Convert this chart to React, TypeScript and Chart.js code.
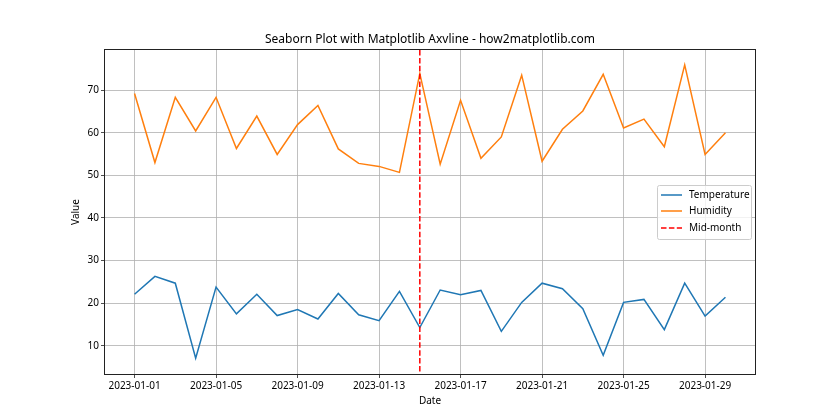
import React, { useEffect, useRef } from "react";
import { Chart, registerables } from "chart.js";

Chart.register(...registerables);

const dates = [
  "2023-01-01", "2023-01-02", "2023-01-03", "2023-01-04", "2023-01-05",
  "2023-01-06", "2023-01-07", "2023-01-08", "2023-01-09", "2023-01-10",
  "2023-01-11", "2023-01-12", "2023-01-13", "2023-01-14", "2023-01-15",
  "2023-01-16", "2023-01-17", "2023-01-18", "2023-01-19", "2023-01-20",
  "2023-01-21", "2023-01-22", "2023-01-23", "2023-01-24", "2023-01-25",
  "2023-01-26", "2023-01-27", "2023-01-28", "2023-01-29", "2023-01-30",
];

const temperature = [
  22.1, 26.3, 24.7, 7.1, 23.8, 17.5, 22.1, 17.1, 18.5, 16.3,
  22.3, 17.3, 15.9, 22.8, 14.3, 23.1, 22.0, 23.0, 13.4, 20.2,
  24.7, 23.4, 18.7, 7.8, 20.2, 20.9, 13.8, 24.7, 17.0, 21.4,
];

const humidity = [
  69.2, 53.0, 68.3, 60.4, 68.3, 56.3, 63.9, 54.9, 61.9, 66.4,
  56.2, 52.8, 52.1, 50.7, 73.9, 52.6, 67.6, 54.0, 59.0, 73.5,
  53.3, 60.8, 65.1, 73.7, 61.1, 63.2, 56.7, 75.9, 54.9, 60.0,
];

const xTickIndices = [0, 4, 8, 12, 16, 20, 24, 28];
const yTicks = [10, 20, 30, 40, 50, 60, 70];
const midMonthIndex = 14;

const title = "Seaborn Plot with Matplotlib Axvline - how2matplotlib.com";
const FONT = "'Noto Sans', sans-serif";

const decorPlugin = {
  id: "decor",
  afterDatasetsDraw(chart: any) {
    const { ctx, chartArea, scales } = chart;
    const x = scales.x.getPixelForValue(midMonthIndex);
    ctx.save();
    ctx.strokeStyle = "#ff0000";
    ctx.lineWidth = 1.5;
    ctx.setLineDash([5.5, 2.4]);
    ctx.beginPath();
    ctx.moveTo(x, chartArea.top);
    ctx.lineTo(x, chartArea.bottom);
    ctx.stroke();
    ctx.restore();
  },
  afterDraw(chart: any) {
    const { ctx, chartArea } = chart;
    const { left, right, top, bottom } = chartArea;
    ctx.save();
    // spines
    ctx.strokeStyle = "#222";
    ctx.lineWidth = 1;
    ctx.strokeRect(Math.round(left) - 0.5, Math.round(top) - 0.5, Math.round(right - left) + 1, Math.round(bottom - top) + 1);

    // title & axis labels
    ctx.fillStyle = "#000";
    ctx.textAlign = "center";
    ctx.textBaseline = "middle";
    ctx.font = `12px ${FONT}`;
    ctx.fillText(title, (left + right) / 2, 40);
    ctx.font = `10px ${FONT}`;
    ctx.fillText("Date", (left + right) / 2, 401);
    ctx.save();
    ctx.translate(76, (top + bottom) / 2);
    ctx.rotate(-Math.PI / 2);
    ctx.fillText("Value", 0, 0);
    ctx.restore();

    // legend
    const bx = 657.5, by = 185.5, bw = 94, bh = 54;
    ctx.fillStyle = "rgba(255,255,255,0.8)";
    ctx.strokeStyle = "#cccccc";
    ctx.lineWidth = 1;
    ctx.beginPath();
    (ctx as any).roundRect(bx, by, bw, bh, 2);
    ctx.fill();
    ctx.stroke();
    const items = [
      { label: "Temperature", color: "#1f77b4", dash: [] as number[] },
      { label: "Humidity", color: "#ff7f0e", dash: [] as number[] },
      { label: "Mid-month", color: "#ff0000", dash: [5.5, 2.4] },
    ];
    const rows = [195, 211, 228];
    items.forEach((it, i) => {
      const y = rows[i];
      ctx.strokeStyle = it.color;
      ctx.lineWidth = 1.5;
      ctx.setLineDash(it.dash);
      ctx.beginPath();
      ctx.moveTo(661, y);
      ctx.lineTo(682, y);
      ctx.stroke();
      ctx.setLineDash([]);
      ctx.fillStyle = "#000";
      ctx.textAlign = "left";
      ctx.textBaseline = "middle";
      ctx.font = `10px ${FONT}`;
      ctx.fillText(it.label, 689, y);
    });
    ctx.restore();
  },
};

export default function App() {
  const ref = useRef<HTMLCanvasElement>(null);
  useEffect(() => {
    if (!ref.current) return;
    const chart = new Chart(ref.current, {
      type: "line",
      data: {
        datasets: [
          {
            label: "Temperature",
            data: temperature.map((v, i) => ({ x: i, y: v })),
            borderColor: "#1f77b4",
            borderWidth: 1.5,
            pointRadius: 0,
            tension: 0,
          },
          {
            label: "Humidity",
            data: humidity.map((v, i) => ({ x: i, y: v })),
            borderColor: "#ff7f0e",
            borderWidth: 1.5,
            pointRadius: 0,
            tension: 0,
          },
        ],
      },
      options: {
        responsive: false,
        animation: false,
        layout: { padding: { top: 50, right: 85, left: 0, bottom: 0 } },
        plugins: {
          legend: { display: false },
          title: { display: false },
          tooltip: { enabled: false },
        },
        scales: {
          x: {
            type: "linear",
            min: -1.45,
            max: 30.45,
            afterBuildTicks: (scale: any) => {
              scale.ticks = xTickIndices.map((v) => ({ value: v }));
            },
            afterFit: (scale: any) => {
              scale.height = 46;
            },
            ticks: {
              callback: (v: any) => dates[v as number] ?? "",
              color: "#000",
              font: { family: FONT, size: 10 },
              padding: 2,
              maxRotation: 0,
              autoSkip: false,
            },
            grid: {
              color: "#b0b0b0",
              lineWidth: 0.8,
              tickColor: "#222",
              tickLength: 4,
            },
            border: { display: false },
          },
          y: {
            type: "linear",
            min: 3.4,
            max: 79.4,
            afterBuildTicks: (scale: any) => {
              scale.ticks = yTicks.map((v) => ({ value: v }));
            },
            afterFit: (scale: any) => {
              scale.width = 105;
            },
            ticks: {
              color: "#000",
              font: { family: FONT, size: 10 },
              padding: 2,
              autoSkip: false,
            },
            grid: {
              color: "#b0b0b0",
              lineWidth: 0.8,
              tickColor: "#222",
              tickLength: 4,
            },
            border: { display: false },
          },
        },
      },
      plugins: [decorPlugin],
    });
    return () => chart.destroy();
  }, []);
  return (
    <div style={{ position: "absolute", left: 0, top: 0, width: 840, height: 420, background: "#fff" }}>
      <canvas ref={ref} width={840} height={420} />
    </div>
  );
}
